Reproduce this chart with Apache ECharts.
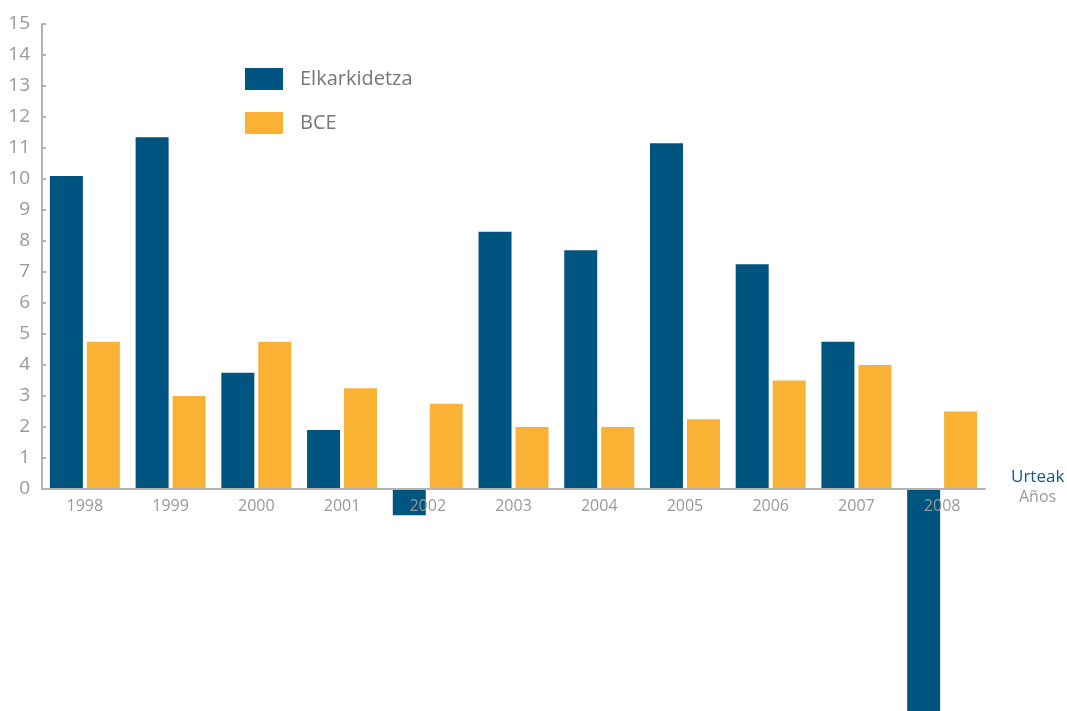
<!DOCTYPE html>
<html><head><meta charset="utf-8">
<script src="https://cdn.jsdelivr.net/npm/echarts@6/dist/echarts.min.js"></script>
<style>html,body{margin:0;padding:0;background:#fff}#c{width:1067px;height:711px}</style>
</head><body><div id="c"></div>
<script>
const years = ['1998','1999','2000','2001','2002','2003','2004','2005','2006','2007','2008'];
const elkarkidetza = [10.1, 11.35, 3.75, 1.9, -0.85, 8.3, 7.7, 11.15, 7.25, 4.75, -7.5];
const bce = [4.75, 3.0, 4.75, 3.25, 2.75, 2.0, 2.0, 2.25, 3.5, 4.0, 2.5];
const seriesNames = ['Elkarkidetza', 'BCE'];
const axisTitles = ['Urteak', 'Años'];

const FONT = '"Open Sans", "Noto Sans", sans-serif';
const chart = echarts.init(document.getElementById('c'), null, {renderer: 'canvas'});
chart.setOption({
  animation: false,
  textStyle: {fontFamily: FONT},
  grid: {left: 42, right: 82, top: 24, bottom: 222, containLabel: false},
  legend: {
    orient: 'vertical', left: 245, top: 68, padding: 0, itemWidth: 38, itemHeight: 22, itemGap: 22,
    icon: 'rect',
    textStyle: {fontSize: 20, color: '#777', fontFamily: FONT, padding: [0, 0, 0, 12]},
    data: seriesNames
  },
  xAxis: {
    type: 'category', data: years, z: 10,
    axisLine: {lineStyle: {color: '#b3b3b3', width: 2}},
    axisTick: {inside: true, length: 6, lineStyle: {color: '#b3b3b3', width: 2}},
    axisLabel: {color: '#999', fontSize: 16, margin: 9, fontFamily: FONT}
  },
  yAxis: {
    type: 'value', min: 0, max: 15, interval: 1, z: 10,
    splitLine: {show: false},
    axisLine: {show: true, lineStyle: {color: '#b3b3b3', width: 2}},
    axisTick: {show: true, inside: true, length: 4, lineStyle: {color: '#b3b3b3', width: 2}},
    axisLabel: {color: '#999', fontSize: 19, margin: 12, fontFamily: FONT}
  },
  series: [
    {name: seriesNames[0], type: 'bar', data: elkarkidetza, barWidth: 33, barGap: '12%', clip: false,
     itemStyle: {color: '#005580'}},
    {name: seriesNames[1], type: 'bar', data: bce, barWidth: 33, clip: false,
     itemStyle: {color: '#F9B233'}}
  ],
  graphic: [
    {type: 'text', left: 1011, top: 469, style: {text: axisTitles[0], fill: '#0f5b87', font: '17px ' + FONT}},
    {type: 'text', left: 1019, top: 489, style: {text: axisTitles[1], fill: '#999', font: '16px ' + FONT}}
  ]
});
</script></body></html>
